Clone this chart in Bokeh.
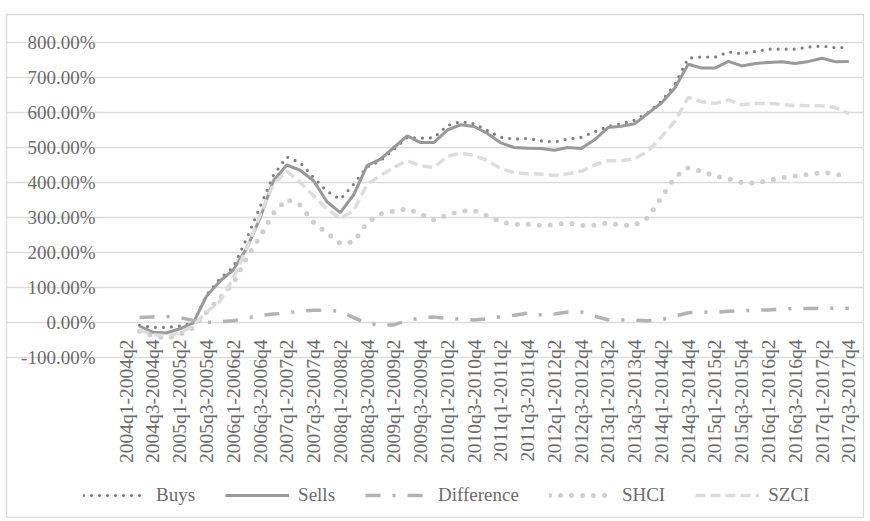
import math
from bokeh.plotting import figure
from bokeh.models import FixedTicker, PrintfTickFormatter, Legend, LegendItem, Range1d, ColumnDataSource
from bokeh.embed import file_html
from bokeh.resources import INLINE

NaN = float("nan")

categories = [
    "2004q1-2004q2", "2004q2-2004q3", "2004q3-2004q4", "2004q4-2005q1",
    "2005q1-2005q2", "2005q2-2005q3", "2005q3-2005q4", "2005q4-2006q1",
    "2006q1-2006q2", "2006q2-2006q3", "2006q3-2006q4", "2006q4-2007q1",
    "2007q1-2007q2", "2007q2-2007q3", "2007q3-2007q4", "2007q4-2008q1",
    "2008q1-2008q2", "2008q2-2008q3", "2008q3-2008q4", "2008q4-2009q1",
    "2009q1-2009q2", "2009q2-2009q3", "2009q3-2009q4", "2009q4-2010q1",
    "2010q1-2010q2", "2010q2-2010q3", "2010q3-2010q4", "2010q4-2011q1",
    "2011q1-2011q2", "2011q2-2011q3", "2011q3-2011q4", "2011q4-2012q1",
    "2012q1-2012q2", "2012q2-2012q3", "2012q3-2012q4", "2012q4-2013q1",
    "2013q1-2013q2", "2013q2-2013q3", "2013q3-2013q4", "2013q4-2014q1",
    "2014q1-2014q2", "2014q2-2014q3", "2014q3-2014q4", "2014q4-2015q1",
    "2015q1-2015q2", "2015q2-2015q3", "2015q3-2015q4", "2015q4-2016q1",
    "2016q1-2016q2", "2016q2-2016q3", "2016q3-2016q4", "2016q4-2017q1",
    "2017q1-2017q2", "2017q2-2017q3", "2017q3-2017q4",
]

# values in percent
buys = [NaN, -8, -14, -14, -10, -2, 78, 125, 158, 240, 330, 420, 473, 457, 415,
        375, 352, 395, 445, 462, 495, 529, 527, 528, 563, 574, 568, 548, 529,
        524, 526, 519, 516, 524, 529, 545, 560, 568, 578, 600, 632, 680, 755,
        759, 758, 773, 768, 774, 781, 781, 781, 787, 790, 785, 786]
sells = [NaN, -10, -28, -30, -18, -2, 75, 118, 150, 212, 298, 405, 450, 435, 405,
         345, 314, 365, 448, 467, 500, 533, 514, 514, 550, 565, 560, 540, 513,
         500, 498, 497, 492, 500, 497, 522, 557, 561, 568, 598, 627, 670, 738,
         727, 727, 746, 733, 740, 743, 745, 740, 746, 755, 745, 746]
difference = [NaN, 14, 16, 17, 14, 6, 0, 2, 5, 12, 20, 24, 27, 33, 35, 35, 32,
              14, -3, -7, -7, 6, 13, 16, 11, 10, 7, 11, 17, 21, 27, 22, 24, 30,
              30, 18, 8, 7, 7, 5, 8, 18, 28, 30, 29, 32, 34, 35, 36, 38, 40, 40,
              40, 41, 41]
shci = [NaN, -25, -38, -45, -35, -15, 29, 70, 112, 185, 245, 312, 352, 335, 286,
        255, 226, 230, 285, 310, 318, 325, 310, 292, 308, 318, 320, 305, 287,
        281, 281, 277, 279, 285, 277, 278, 284, 278, 278, 300, 357, 415, 442,
        432, 418, 411, 400, 398, 406, 413, 419, 423, 429, 424, 415]
szci = [NaN, -22, -35, -38, -30, -10, 30, 60, 127, 210, 306, 395, 433, 400, 362,
        325, 297, 320, 395, 420, 443, 462, 448, 443, 475, 484, 478, 462, 440,
        428, 425, 424, 420, 425, 432, 450, 462, 462, 468, 490, 530, 575, 643,
        631, 626, 636, 622, 626, 626, 623, 620, 619, 619, 614, 597]

y_ticks = [-100, 0, 100, 200, 300, 400, 500, 600, 700, 800]
series_names = ["Buys", "Sells", "Difference", "SHCI", "SZCI"]

idx = list(range(len(categories)))
label_idx = idx[::2]

src = ColumnDataSource(dict(x=idx, buys=buys, sells=sells, difference=difference,
                            shci=shci, szci=szci))

FONT = "Liberation Serif"
TEXT = "#6b6b6b"

# ---- layout (pixels) ----
W, H = 864, 518                 # figure size
FL, FT = 6, 14                  # frame (chart border) offset inside figure
FW, FH = W - FL, H - FT         # frame size
PLOT_L, PLOT_R = 113, 849       # category area inside the frame
PLOT_T, PLOT_B = 28, 343        # 800% .. -100% lines inside the frame
n = len(categories)
ppx = (PLOT_R - PLOT_L) / n
x0 = -0.5 - PLOT_L / ppx
x1 = n - 0.5 + (FW - PLOT_R) / ppx
ppy = (PLOT_B - PLOT_T) / (y_ticks[-1] - y_ticks[0])
y1 = y_ticks[-1] + PLOT_T / ppy
y0 = y_ticks[0] - (FH - PLOT_B) / ppy

p = figure(width=W, height=H, output_backend="svg", toolbar_location=None,
           x_range=Range1d(x0, x1), y_range=Range1d(y0, y1),
           min_border_left=FL, min_border_right=0, min_border_top=FT,
           min_border_bottom=0)
p.outline_line_color = "#d9d9d9"
p.outline_line_width = 1.3
p.background_fill_color = "white"
p.border_fill_color = "white"

p.xgrid.visible = False
p.ygrid.grid_line_color = "#dcdcdc"
p.ygrid.grid_line_width = 1.3
p.ygrid.bounds = (-0.5, n - 0.5)

p.yaxis.ticker = FixedTicker(ticks=y_ticks)
p.yaxis.formatter = PrintfTickFormatter(format="%.2f%%")
p.yaxis.fixed_location = -0.5
p.yaxis.axis_line_color = None
p.yaxis.major_tick_line_color = None
p.yaxis.minor_tick_line_color = None
p.yaxis.major_label_standoff = 18
p.yaxis.major_label_text_font = FONT
p.yaxis.major_label_text_font_size = "19px"
p.yaxis.major_label_text_color = TEXT

p.xaxis.ticker = FixedTicker(ticks=label_idx)
p.xaxis.major_label_overrides = {i: categories[i] for i in label_idx}
p.xaxis.major_label_orientation = math.pi / 2
p.xaxis.fixed_location = 0
p.xaxis.axis_line_color = None
p.xaxis.major_tick_line_color = None
p.xaxis.minor_tick_line_color = None
p.xaxis.major_label_standoff = 11
p.xaxis.major_label_text_font = FONT
p.xaxis.major_label_text_font_size = "19.5px"
p.xaxis.major_label_text_color = TEXT

r_buys = p.line("x", "buys", source=src, line_color="#7f7f7f", line_width=3.2,
                line_dash="0 8", line_cap="round")
r_sells = p.line("x", "sells", source=src, line_color="#999999", line_width=3)
r_diff = p.line("x", "difference", source=src, line_color="#b3b3b3", line_width=3.5,
                line_dash="15 12 3 12")
r_shci = p.line("x", "shci", source=src, line_color="#cfcfcf", line_width=5,
                line_dash="0 11", line_cap="round")
r_szci = p.line("x", "szci", source=src, line_color="#dddddd", line_width=3.5,
                line_dash="10 5")

renderers = [r_buys, r_sells, r_diff, r_shci, r_szci]
legend = Legend(items=[LegendItem(label=nm, renderers=[r]) for nm, r in zip(series_names, renderers)],
                orientation="horizontal", location=(77, 12),
                glyph_width=64, glyph_height=20, label_standoff=9, spacing=30,
                padding=0, margin=0, border_line_color=None, background_fill_alpha=0,
                label_text_font=FONT, label_text_font_size="19px",
                label_text_color=TEXT)
p.add_layout(legend, "center")

open("out.html", "w").write(file_html(p, INLINE))
